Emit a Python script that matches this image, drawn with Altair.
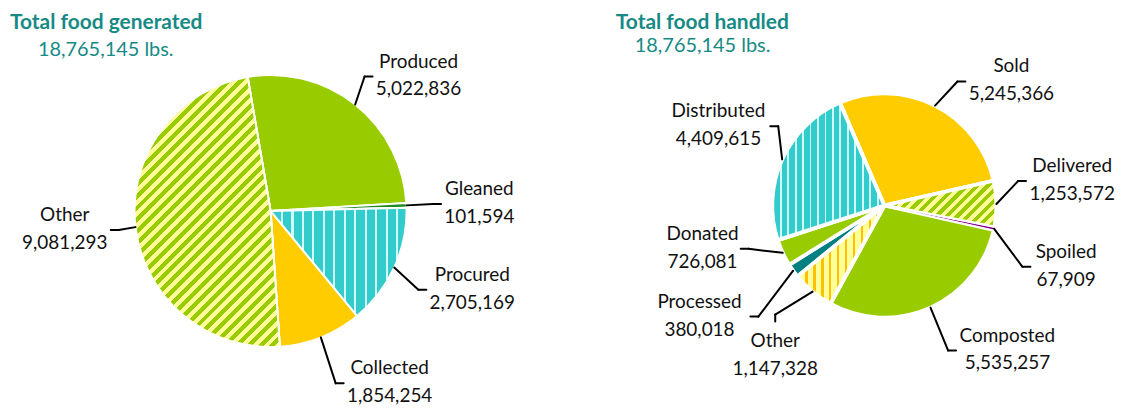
import math
import altair as alt
import pandas as pd

# ---------------- data ----------------
left_categories = ["Produced", "Gleaned", "Procured", "Collected", "Other"]
left_values = [5022836, 101594, 2705169, 1854254, 9081293]
right_categories = ["Sold", "Delivered", "Spoiled", "Composted", "Other",
                    "Processed", "Donated", "Distributed"]
right_values = [5245366, 1253572, 67909, 5535257, 1147328, 380018, 726081, 4409615]

left_title = "Total food generated"
right_title = "Total food handled"
left_total = "18,765,145 lbs."
right_total = "18,765,145 lbs."

# ---------------- styles ----------------
TEAL = "#168A85"
left_colors = ["#99CC00", "#1E8C1E", "#33CCCC", "#FFCC00", "#FFFF99"]
right_colors = ["#FFCC00", "#FFFF99", "#800080", "#99CC00", "#FFFF99",
                "#008080", "#99CC00", "#33CCCC"]
# kind, background, stripe colour, period(px), stripe fraction, stroke width
left_patterns = {
    "Procured": ("v", "#33CCCC", "#D2FAFA", 10.7, 0.2, 2),
    "Other": ("d", "#FFFF99", "#99CC00", 8.5, 0.5, 2),
}
right_patterns = {
    "Delivered": ("d", "#FFFF99", "#99CC00", 7.5, 0.5, 3.8),
    "Other": ("v", "#FFFF99", "#FFC000", 8.0, 0.3, 3.8),
    "Distributed": ("v", "#33CCCC", "#D2FAFA", 7.5, 0.25, 3.8),
    "Spoiled": ("s", "#800080", None, 0, 0, 1.0),
}

# ---------------- layout ----------------
PANEL_H = 392
LEFT_W, RIGHT_W = 560, 552
left_center, left_radius, left_start = (263.5, 203.0), 136.5, -9.7
right_center, right_radius, right_start = (319.5, 197.5), 112.5, -23.4
left_label_x = [412, 473, 466, 383, 57]
left_label_y = [59, 187, 273, 367, 213]
left_label_side = ["R", "R", "R", "R", "L"]
right_label_x = [447, 508, 502, 443, 210, 134, 137, 153]
right_label_y = [64, 164, 250, 334, 340, 300, 232, 109]
right_label_side = ["R", "R", "R", "R", "T", "L", "L", "L"]
FONT = "Lato"
LABEL_SIZE = 19


def text_w(s, size=LABEL_SIZE):
    w = 0.0
    for ch in s:
        if ch.isdigit():
            w += 0.58
        elif ch in ",.":
            w += 0.24
        elif ch == " ":
            w += 0.2
        elif ch.isupper():
            w += 0.66
        elif ch in "iljtf":
            w += 0.3
        elif ch in "mw":
            w += 0.85
        else:
            w += 0.55
    return w * size


def wedge_bbox(t0, t1, R):
    pts = [(0.0, 0.0), (R * math.sin(t0), -R * math.cos(t0)),
           (R * math.sin(t1), -R * math.cos(t1))]
    for k in range(-8, 9):
        a = k * math.pi / 2
        if t0 < a < t1:
            pts.append((R * math.sin(a), -R * math.cos(a)))
    xs = [p[0] for p in pts]
    ys = [p[1] for p in pts]
    return max(xs) - min(xs), max(ys) - min(ys)


def stripe_stops(bg, fg, n, frac):
    stops = []
    for i in range(n):
        a, b, c = i / n, (i + frac) / n, (i + 1) / n
        stops += [{"offset": round(a, 5), "color": fg},
                  {"offset": round(b, 5), "color": fg},
                  {"offset": round(b, 5), "color": bg},
                  {"offset": round(c, 5), "color": bg}]
    return stops


def make_fill(kind, bg, fg, period, frac, w, h):
    if kind == "s":
        return bg
    if kind == "v":
        n = max(1, round(w / period))
        return {"gradient": "linear", "x1": 0, "y1": 0, "x2": 1, "y2": 0,
                "stops": stripe_stops(bg, fg, n, frac)}
    s = (w + h) / (w * w + h * h)
    L = (w + h) / math.sqrt(2)
    n = max(1, round(L / period))
    return {"gradient": "linear", "x1": 0, "y1": 0, "x2": s * w, "y2": s * h,
            "stops": stripe_stops(bg, fg, n, frac)}


def pie_panel(cats, vals, colors, patterns, center, R, start_deg, sw,
              lab_x, lab_y, lab_side, title, total, title_xy, total_xy, width):
    cx, cy = center
    a0 = math.radians(start_deg)
    tot = float(sum(vals))
    rows = []
    for i, (c, v) in enumerate(zip(cats, vals)):
        l1, l2 = c, f"{v:,}"
        half = max(text_w(l1), text_w(l2)) / 2
        lx, ly, side = lab_x[i], lab_y[i], lab_side[i]
        my = ly + 9
        if side == "R":
            tx, ty = lx - half - 3, my
            ex, ey = tx - 8, my
        elif side == "L":
            tx, ty = lx + half + 3, my
            ex, ey = tx + 8, my
        else:
            tx, ty = lx, ly - 26
            ex, ey = lx, ly - 33
        rows.append(dict(cat=c, value=v, idx=i, fill=colors[i], line1=l1, line2=l2,
                         lx=lx, ly=ly, ly2=ly + 28, ex=ex, ey=ey, tx=tx, ty=ty))
    df = pd.DataFrame(rows)
    base = alt.Chart(df)
    theta = alt.Theta("value:Q", stack=True,
                      scale=alt.Scale(range=[a0, a0 + 2 * math.pi]))
    order = alt.Order("idx:Q", sort="ascending")

    layers = [base.mark_arc(radius=R, stroke="white", strokeWidth=sw).encode(
        theta=theta, order=order, color=alt.Color("fill:N", scale=None),
        x=alt.value(cx), y=alt.value(cy))]

    cum = 0.0
    spans = {}
    for c, v in zip(cats, vals):
        t0 = a0 + 2 * math.pi * cum / tot
        cum += v
        t1 = a0 + 2 * math.pi * cum / tot
        spans[c] = (t0, t1)
    for c, (kind, bg, fg, period, frac, psw) in patterns.items():
        i = cats.index(c)
        w, h = wedge_bbox(spans[c][0], spans[c][1], R)
        fill = make_fill(kind, bg, fg, period, frac, w, h)
        layers.append(base.mark_arc(radius=R, fill=fill, stroke="white",
                                    strokeWidth=psw).encode(
            theta=theta, order=order, x=alt.value(cx), y=alt.value(cy),
            opacity=alt.condition(f"datum.idx == {i}", alt.value(1), alt.value(0))))

    lead = (base.transform_joinaggregate(total="sum(value)")
            .transform_window(cum="sum(value)", sort=[alt.SortField("idx")],
                              frame=[None, 0])
            .transform_calculate(mid=f"{a0} + 2*PI*(datum.cum - datum.value/2)/datum.total")
            .transform_calculate(x0=f"{cx} + {R}*sin(datum.mid)",
                                 y0=f"{cy} - {R}*cos(datum.mid)"))
    layers.append(lead.mark_rule(color="black", strokeWidth=2, strokeCap="round").encode(
        x=alt.X("x0:Q", scale=None, axis=None), y=alt.Y("y0:Q", scale=None, axis=None),
        x2="ex:Q", y2="ey:Q"))
    layers.append(base.mark_rule(color="black", strokeWidth=2, strokeCap="round").encode(
        x=alt.X("ex:Q", scale=None, axis=None), y=alt.Y("ey:Q", scale=None, axis=None),
        x2="tx:Q", y2="ty:Q"))
    for yf, tf in (("ly", "line1"), ("ly2", "line2")):
        layers.append(base.mark_text(font=FONT, fontSize=LABEL_SIZE, color="#111111",
                                     align="center", baseline="alphabetic").encode(
            x=alt.X("lx:Q", scale=None, axis=None), y=alt.Y(f"{yf}:Q", scale=None, axis=None),
            text=f"{tf}:N"))

    tdf = pd.DataFrame({"t": [title], "n": [total]})
    layers.append(alt.Chart(tdf).mark_text(font=FONT, fontSize=21, fontWeight="bold",
                                           color=TEAL, align="left",
                                           baseline="alphabetic").encode(
        x=alt.value(title_xy[0]), y=alt.value(title_xy[1]), text="t:N"))
    layers.append(alt.Chart(tdf).mark_text(font=FONT, fontSize=20, color=TEAL,
                                           align="left", baseline="alphabetic").encode(
        x=alt.value(total_xy[0]), y=alt.value(total_xy[1]), text="n:N"))
    return alt.layer(*layers).properties(width=width, height=PANEL_H)


left = pie_panel(left_categories, left_values, left_colors, left_patterns,
                 left_center, left_radius, left_start, 2,
                 left_label_x, left_label_y, left_label_side,
                 left_title, left_total, (2, 20), (30, 47), LEFT_W)
right = pie_panel(right_categories, right_values, right_colors, right_patterns,
                  right_center, right_radius, right_start, 3.8,
                  right_label_x, right_label_y, right_label_side,
                  right_title, right_total, (50, 20), (69, 43), RIGHT_W)

chart = (alt.hconcat(left, right, spacing=0)
         .resolve_scale(theta="independent")
         .properties(padding=0)
         .configure_view(stroke=None))

chart.save("out.html", embed_options={"renderer": "svg", "actions": False})
